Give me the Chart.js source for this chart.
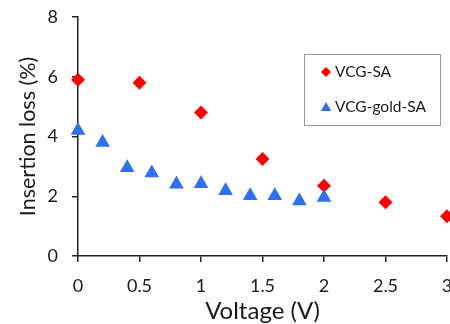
<!DOCTYPE html>
<html>
<head>
<meta charset="utf-8">
<script src="https://cdn.jsdelivr.net/npm/chart.js@4.4.1/dist/chart.umd.min.js"></script>
<style>
  html, body { margin: 0; padding: 0; background: #fff; }
  canvas { display: block; }
</style>
</head>
<body>
<canvas id="loss-chart" width="450" height="324"></canvas>
<script>
const voltageSA = [0, 0.5, 1, 1.5, 2, 2.5, 3]
const lossSA = [5.9, 5.8, 4.8, 3.25, 2.35, 1.8, 1.33]
const voltageGold = [0, 0.2, 0.4, 0.6, 0.8, 1.0, 1.2, 1.4, 1.6, 1.8, 2.0]
const lossGold = [4.2, 3.8, 2.95, 2.78, 2.4, 2.42, 2.18, 2.02, 2.02, 1.84, 1.96]
const xTicks = [0, 0.5, 1, 1.5, 2, 2.5, 3]
const yTicks = [0, 2, 4, 6, 8]

const FONT = 'Lato, "Open Sans", sans-serif'
const AXIS = '#222'

function toPoints(xs, ys) {
    return xs.map((x, i) => ({ x: x, y: ys[i] }))
}

// legend box drawn inside the plot, like the original
const boxLegend = {
    id: 'boxLegend',
    afterDraw(chart) {
        const ctx = chart.ctx
        ctx.save()
        ctx.fillStyle = '#fff'
        ctx.fillRect(304, 54, 136, 71)
        ctx.strokeStyle = '#9a9a9a'
        ctx.lineWidth = 1
        ctx.strokeRect(304.5, 54.5, 136, 71)
        const rows = [chart.data.datasets[0], chart.data.datasets[1]]
        const ys = [72, 107]
        rows.forEach((ds, i) => {
            const tri = ds.pointStyle === 'triangle'
            ctx.fillStyle = ds.backgroundColor
            Chart.helpers.drawPoint(ctx, {
                pointStyle: ds.pointStyle,
                radius: tri ? 6 : 5,
                rotation: 0,
                borderWidth: 0
            }, 326, ys[i] + (tri ? 1 : 0))
            ctx.fillStyle = '#1a1a1a'
            ctx.font = '15.5px ' + FONT
            ctx.textBaseline = 'middle'
            ctx.textAlign = 'left'
            ctx.fillText(ds.label, 335, ys[i])
        })
        ctx.restore()
    }
}

var ctx = document.getElementById('loss-chart').getContext('2d')

var chart = new Chart(ctx, {
    type: 'scatter',
    data: {
        datasets: [{
            label: 'VCG-SA',
            data: toPoints(voltageSA, lossSA),
            pointStyle: 'rectRot',
            pointRadius: 7,
            pointHoverRadius: 7,
            backgroundColor: '#ff0000',
            borderWidth: 0,
            clip: false,
            order: 1
        }, {
            label: 'VCG-gold-SA',
            data: toPoints(voltageGold, lossGold),
            pointStyle: 'triangle',
            pointRadius: 8.5,
            pointHoverRadius: 8.5,
            backgroundColor: '#3070f0',
            borderWidth: 0,
            clip: false,
            order: 0
        }]
    },
    options: {
        responsive: false,
        animation: false,
        layout: { autoPadding: false, padding: { top: 17, right: 3, left: 0, bottom: 0 } },
        plugins: {
            legend: { display: false },
            tooltip: { enabled: false }
        },
        scales: {
            x: {
                type: 'linear',
                min: 0,
                max: 3,
                afterBuildTicks: (s) => { s.ticks = xTicks.map(v => ({ value: v })) },
                afterFit: (s) => { s.height = 68; s.paddingLeft = 0; s.paddingRight = 0 },
                grid: { drawOnChartArea: false, drawTicks: true, tickLength: 6, color: AXIS, lineWidth: 1.5 },
                border: { display: true, color: AXIS, width: 1.5 },
                ticks: {
                    padding: 13,
                    color: '#1a1a1a',
                    font: { family: FONT, size: 18 },
                    maxRotation: 0,
                    autoSkip: false,
                    callback: (v) => String(v)
                },
                title: {
                    display: true,
                    text: 'Voltage (V)',
                    color: '#1a1a1a',
                    font: { family: FONT, size: 24, lineHeight: 1 },
                    padding: { top: 0, bottom: 1 }
                }
            },
            y: {
                min: 0,
                max: 8,
                afterBuildTicks: (s) => { s.ticks = yTicks.map(v => ({ value: v })) },
                afterFit: (s) => { s.width = 78; s.paddingTop = 0; s.paddingBottom = 0 },
                grid: { drawOnChartArea: false, drawTicks: true, tickLength: 6, color: AXIS, lineWidth: 1.5 },
                border: { display: true, color: AXIS, width: 1.5 },
                ticks: {
                    padding: 14,
                    color: '#1a1a1a',
                    font: { family: FONT, size: 18 },
                    callback: (v) => String(v)
                },
                title: {
                    display: true,
                    text: 'Insertion loss (%)',
                    color: '#1a1a1a',
                    font: { family: FONT, size: 21.5, lineHeight: 1 },
                    padding: { top: 17, bottom: 0 }
                }
            }
        }
    },
    plugins: [boxLegend]
})
</script>
</body>
</html>
